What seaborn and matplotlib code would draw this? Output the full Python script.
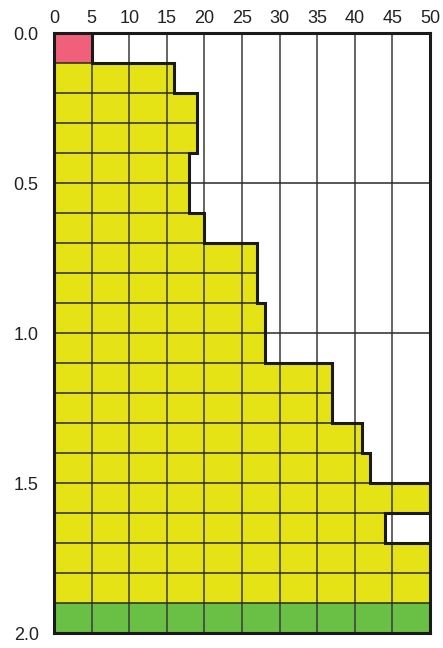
"""
Step chart of filled cells (recreated with seaborn heatmap)
"""

# =====================================================
# Imports
# =====================================================
import numpy as np
import matplotlib
matplotlib.use("Agg")
import matplotlib.pyplot as plt
from matplotlib.colors import ListedColormap
import seaborn as sns

# =====================================================
# Data
# =====================================================
# one entry per 0.1 band from 0.0 to 2.0
row_starts = [0.0, 0.1, 0.2, 0.3, 0.4, 0.5, 0.6, 0.7, 0.8, 0.9,
              1.0, 1.1, 1.2, 1.3, 1.4, 1.5, 1.6, 1.7, 1.8, 1.9]
fill_right = [5, 16, 19, 19, 18, 18, 20, 27, 27, 28,
              28, 37, 37, 41, 42, 50, 44, 50, 50, 50]
row_class = ["red", "yellow", "yellow", "yellow", "yellow", "yellow", "yellow",
             "yellow", "yellow", "yellow", "yellow", "yellow", "yellow",
             "yellow", "yellow", "yellow", "yellow", "yellow", "yellow", "green"]

x_ticks = [0, 5, 10, 15, 20, 25, 30, 35, 40, 45, 50]
y_ticks = [0.0, 0.5, 1.0, 1.5, 2.0]
x_max = 50

class_colors = {"red": "#f0607a", "yellow": "#e5e216", "green": "#6abf45"}
class_codes = {"red": 0, "yellow": 1, "green": 2}

# =====================================================
# Build cell matrix (1 unit wide columns, 0.1 high rows)
# =====================================================
n_rows = len(row_starts)
grid = np.full((n_rows, x_max), np.nan)
for i, (right, cls) in enumerate(zip(fill_right, row_class)):
    grid[i, :right] = class_codes[cls]

cmap = ListedColormap([class_colors["red"], class_colors["yellow"], class_colors["green"]])

# =====================================================
# Plot
# =====================================================
plt.rcParams["font.family"] = ["Liberation Sans", "DejaVu Sans"]
fig = plt.figure(figsize=(4.43, 6.48), dpi=100)
ax = fig.add_axes([54 / 443, 15 / 648, 376 / 443, 600 / 648])

sns.heatmap(grid, cmap=cmap, vmin=-0.5, vmax=2.5, cbar=False, ax=ax,
            xticklabels=False, yticklabels=False)

# vertical grid lines every 5
for xv in x_ticks[1:-1]:
    ax.plot([xv, xv], [0, n_rows], color="#3a3a3a", lw=1.1, zorder=3)

# horizontal cell lines
for k in range(1, n_rows):
    span = max(fill_right[k - 1], fill_right[k])
    if k % 5 == 0:
        span = x_max
    ax.plot([0, span], [k, k], color="#2a2a2a", lw=1.1, zorder=3)

# thick outline between filled and empty cells
xs, ys = [fill_right[0], fill_right[0]], [0, 1]
for k in range(1, 16):
    xs += [fill_right[k], fill_right[k]]
    ys += [k, k + 1]
ax.plot(xs, ys, color="#1a1a1a", lw=2.2, zorder=4, solid_joinstyle="miter")
ax.plot([x_max, fill_right[16], fill_right[16], x_max], [16, 16, 17, 17],
        color="#1a1a1a", lw=2.2, zorder=4, solid_joinstyle="miter")

for s in ax.spines.values():
    s.set_visible(True)
    s.set_color("#1a1a1a")
    s.set_linewidth(2.2)
    s.set_zorder(5)

ax.set_xlim(0, x_max)
ax.set_ylim(n_rows, 0)
ax.xaxis.tick_top()
ax.set_xticks(x_ticks)
ax.set_xticklabels([str(v) for v in x_ticks], fontsize=13)
ax.set_yticks([v * 10 for v in y_ticks])
ax.set_yticklabels([f"{v:.1f}" for v in y_ticks], fontsize=13)
ax.tick_params(axis="x", length=0, pad=4, colors="#222222")
ax.tick_params(axis="y", length=0, pad=11, colors="#222222")

plt.savefig("out.png", dpi=100)
plt.close()
